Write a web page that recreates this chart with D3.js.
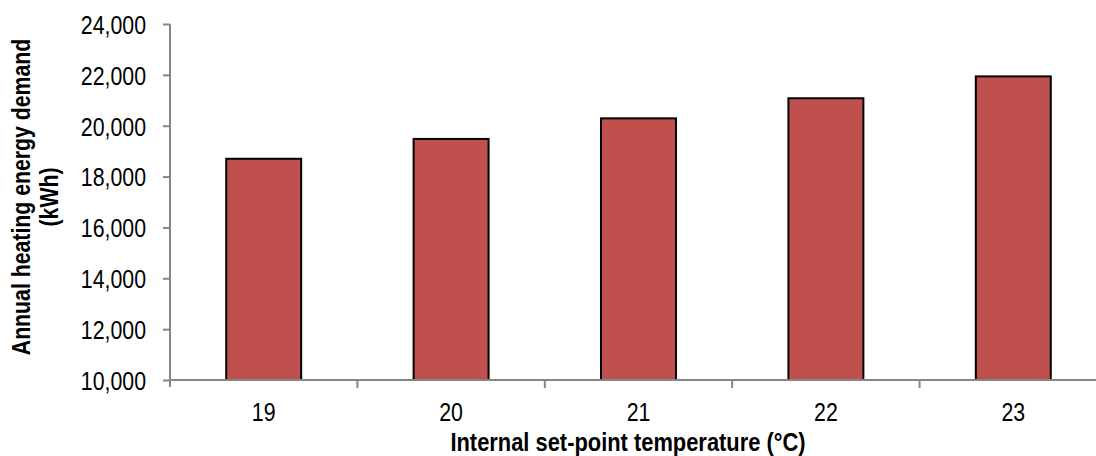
<!DOCTYPE html>
<html><head><meta charset="utf-8">
<script src="https://cdn.jsdelivr.net/npm/d3@7"></script>
<style>
html,body{margin:0;padding:0;background:#fff;}
text{font-family:"Liberation Sans",Arial,sans-serif;}
</style></head>
<body><svg id="c" width="1096" height="456"></svg>
<script>
const categories = ["19","20","21","22","23"];
const values = [18700, 19480, 20290, 21080, 21940];
const yTicks = [10000,12000,14000,16000,18000,20000,22000,24000];
const xTitle = "Internal set-point temperature (°C)";
const yTitle = ["Annual heating energy demand","(kWh)"];

(function(){
const svg = d3.select("#c");
const mL = 170, mR = 1107, mT = 24, mB = 380;
const x = d3.scaleBand().domain(categories).range([mL, mR]).paddingInner(0.6).paddingOuter(0.3);
const y = d3.scaleLinear().domain([10000, 24000]).range([mB, mT]);
const step = x.step();
const axisColor = "#868686";
const narrow = 0.82;
function condense(sel, f){
  sel.each(function(){
    const w = this.getComputedTextLength();
    d3.select(this).attr("textLength", w*f).attr("lengthAdjust","spacingAndGlyphs");
  });
}

// bars
svg.append("g").selectAll("rect").data(values).join("rect")
  .attr("x", (d,i)=>x(categories[i]))
  .attr("y", d=>y(d))
  .attr("width", x.bandwidth())
  .attr("height", d=>y(10000)-y(d))
  .attr("fill", "#C0504D")
  .attr("stroke", "#000")
  .attr("stroke-width", 2);

// y axis
const yAxis = svg.append("g").attr("transform", `translate(${mL},0)`)
  .call(d3.axisLeft(y).tickValues(yTicks).tickSize(7).tickPadding(17).tickFormat(d3.format(",")));
yAxis.select(".domain").attr("stroke", axisColor).attr("stroke-width", 2).attr("d", `M0,${mT}H0V${mB+7}`);
yAxis.selectAll(".tick line").attr("stroke", axisColor).attr("stroke-width", 2);
yAxis.selectAll(".tick text").attr("fill","#000").style("font-size","26px").attr("dy","0.36em");
condense(yAxis.selectAll(".tick text"), narrow);

// x axis
const xAxis = svg.append("g").attr("transform", `translate(0,${mB})`)
  .call(d3.axisBottom(x).tickSize(0).tickPadding(23));
xAxis.select(".domain").attr("stroke", axisColor).attr("stroke-width", 2).attr("d", `M${mL},0H${mR}`);
xAxis.selectAll(".tick text").attr("fill","#000").style("font-size","26px");
condense(xAxis.selectAll(".tick text"), narrow);
const bounds = categories.map((c)=>x(c) - step*0.3);
xAxis.append("g").selectAll("line").data(bounds.slice(1)).join("line")
  .attr("x1", d=>d).attr("x2", d=>d).attr("y1", 0).attr("y2", 8)
  .attr("stroke", axisColor).attr("stroke-width", 2);

// x title
const xt = svg.append("text").attr("x", 628).attr("y", 451).attr("text-anchor","middle")
  .style("font-size","25px").style("font-weight","bold").text(xTitle);
condense(xt, 0.875);

// y title (two separate rotated lines)
const ys = [30, 58];
yTitle.forEach((line, i) => {
  const t = svg.append("text").attr("transform", `translate(${ys[i]},197) rotate(-90)`)
    .attr("x", 0).attr("y", 0)
    .attr("text-anchor","middle").style("font-size","25px").style("font-weight","bold").text(line);
  condense(t, 0.85);
});
})();
</script></body></html>
